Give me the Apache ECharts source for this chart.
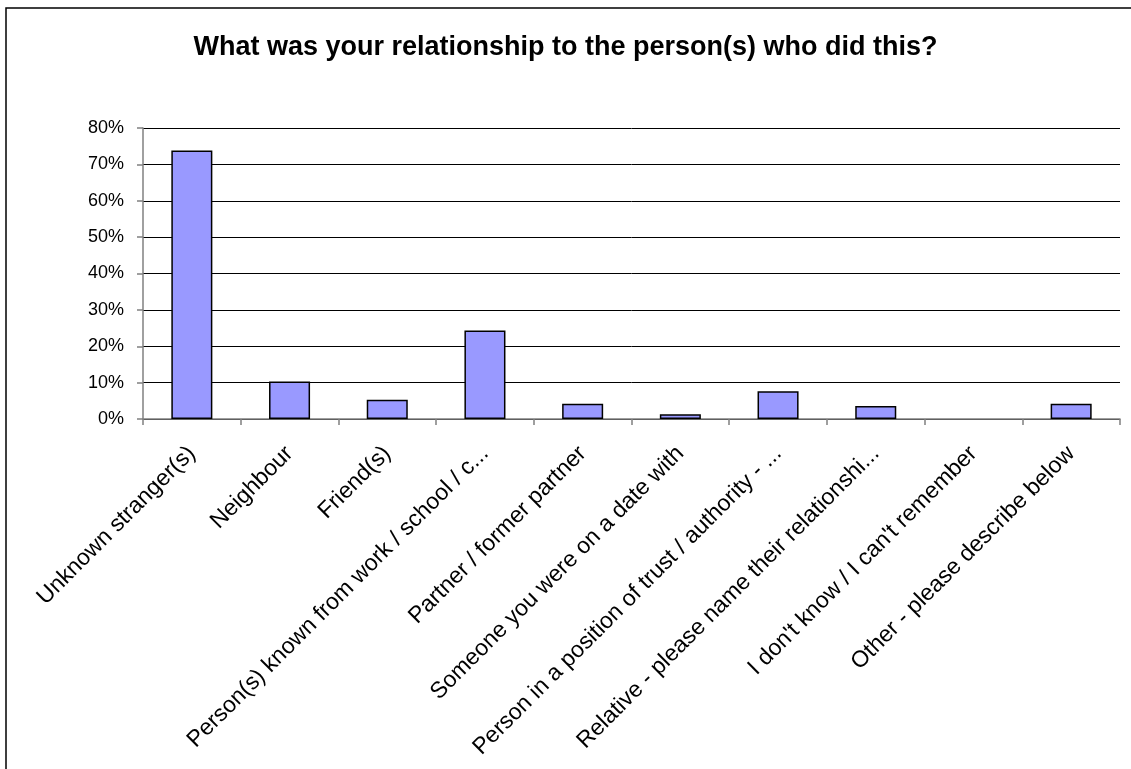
<!DOCTYPE html>
<html>
<head>
<meta charset="utf-8">
<script src="https://cdn.jsdelivr.net/npm/echarts@6/dist/echarts.min.js"></script>
<style>
html,body{margin:0;padding:0;background:#fff;}
#chart{width:1131px;height:769px;}
</style>
</head>
<body>
<div id="chart"></div>
<script>
var titleText = "What was your relationship to the person(s) who did this?";
var categories = [
  "Unknown stranger(s)",
  "Neighbour",
  "Friend(s)",
  "Person(s) known from work / school / c...",
  "Partner / former partner",
  "Someone you were on a date with",
  "Person in a position of trust / authority - ...",
  "Relative - please name their relationshi...",
  "I don't know / I can't remember",
  "Other - please describe below"
];
var values = [73.8, 10.3, 5.3, 24.3, 4.2, 1.3, 7.6, 3.6, 0, 4.2];
var yTicks = { min: 0, max: 80, interval: 10 };

var barData = values.map(function (v) {
  return v === 0 ? {value: v, itemStyle: {borderWidth: 0}} : v;
});

var chart = echarts.init(document.getElementById('chart'), null, {renderer: 'canvas'});
chart.setOption({
  animation: false,
  backgroundColor: '#ffffff',
  title: {
    text: titleText,
    left: 'center',
    top: 29,
    textStyle: {
      fontFamily: 'Liberation Sans',
      fontSize: 27,
      fontWeight: 'bold',
      color: '#000'
    }
  },
  graphic: [{
    type: 'rect',
    shape: {x: 6, y: 8, width: 1300, height: 1000},
    style: {fill: 'none', stroke: '#000', lineWidth: 1.5},
    silent: true,
    z: -1
  }],
  grid: {left: 143, right: 11, top: 128, bottom: 350, containLabel: false},
  xAxis: {
    type: 'category',
    data: categories,
    boundaryGap: true,
    axisLine: {lineStyle: {color: '#808080', width: 1.5}},
    axisTick: {show: true, alignWithLabel: false, length: 6, lineStyle: {color: '#808080', width: 1.5}},
    axisLabel: {
      interval: 0,
      rotate: 45,
      margin: 31,
      color: '#000',
      fontFamily: 'Liberation Sans',
      fontSize: 23
    },
    splitLine: {show: false}
  },
  yAxis: {
    type: 'value',
    min: yTicks.min,
    max: yTicks.max,
    interval: yTicks.interval,
    axisLine: {show: true, lineStyle: {color: '#808080', width: 1.5}},
    axisTick: {show: true, length: 6, lineStyle: {color: '#808080', width: 1.5}},
    axisLabel: {
      margin: 19,
      color: '#000',
      fontFamily: 'Liberation Sans',
      fontSize: 18,
      formatter: '{value}%'
    },
    splitLine: {show: true, lineStyle: {color: '#000', width: 1}}
  },
  series: [{
    type: 'bar',
    data: barData,
    barWidth: '42%',
    itemStyle: {color: '#9999FF', borderColor: '#000', borderWidth: 1.5}
  }]
});
</script>
</body>
</html>
